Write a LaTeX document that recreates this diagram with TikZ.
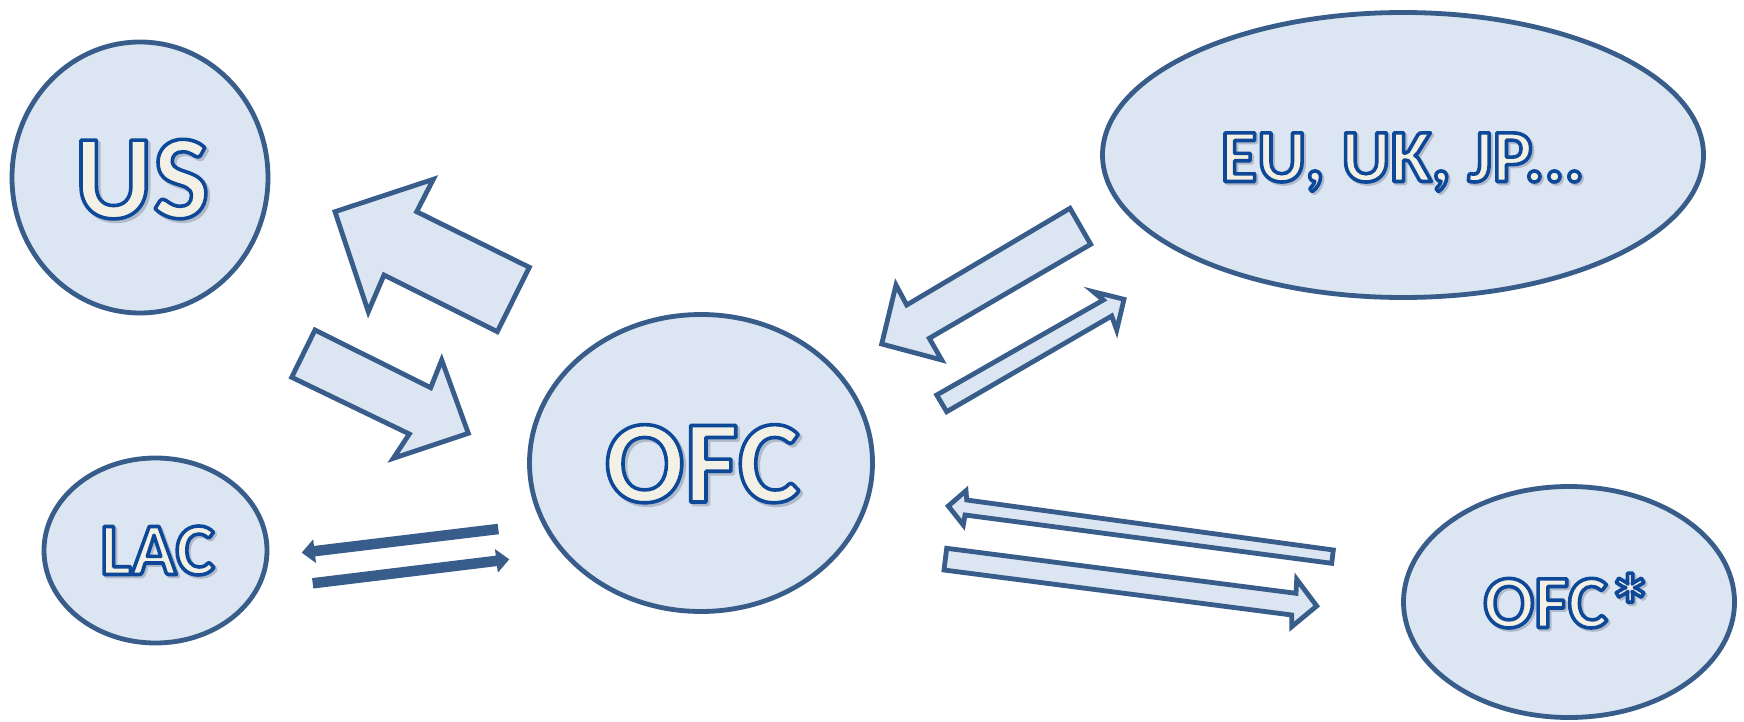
\documentclass[tikz,border=0pt]{standalone}
\usepackage{fontspec}
\setmainfont{Carlito}
\usetikzlibrary{shapes.geometric,arrows.meta}

\definecolor{edge}{RGB}{56,93,138}
\definecolor{bubble}{RGB}{220,230,242}
\definecolor{ink}{RGB}{243,240,229}
\definecolor{rim}{RGB}{14,72,152}
\definecolor{shade}{RGB}{176,186,202}

% outlined lettering: fill with the current colour, stroke in the rim colour
\newcommand{\rimtext}[1]{%
  \special{pdf:literal direct 2 Tr 3.6 w 1 j 0.055 0.282 0.596 RG}#1%
  \special{pdf:literal direct 0 Tr}}
% the same glyph outline, stroked in the shadow colour
\newcommand{\shadetext}[1]{%
  \special{pdf:literal direct 2 Tr 3.6 w 1 j 0.690 0.729 0.792 RG}#1%
  \special{pdf:literal direct 0 Tr}}
% a larger asterisk, kept level with the capitals
\newcommand{\bigstar}{\raisebox{-10pt}{\fontsize{90}{90}\selectfont *}}

\tikzset{
  bubbleshape/.style={ellipse, draw=edge, fill=bubble, line width=4.8pt, inner sep=0pt},
  blockarrow/.style={draw=edge, fill=bubble, line width=4.8pt, line join=miter},
  flowline/.style={draw=edge, line width=10.5pt, -{Triangle[width=23pt,length=13pt]}},
  bigword/.style={inner sep=0pt, anchor=base, text=ink, font=\bfseries\fontsize{#1}{#1}\selectfont},
  bigshadow/.style={inner sep=0pt, anchor=base, text=shade, font=\bfseries\fontsize{#1}{#1}\selectfont},
}

\begin{document}
\begin{tikzpicture}[x=1pt, y=-1pt]
  \path[fill=white, use as bounding box] (0,0) rectangle (1744,722);

  % regions
  \node[bubbleshape, minimum width=256pt, minimum height=271pt] (us) at (140,177.5) {};
  \node[bubbleshape, minimum width=223pt, minimum height=185pt] (lac) at (155.5,550.5) {};
  \node[bubbleshape, minimum width=343pt, minimum height=297pt] (ofc) at (701,463) {};
  \node[bubbleshape, minimum width=601pt, minimum height=285pt] (eu) at (1403,155) {};
  \node[bubbleshape, minimum width=331pt, minimum height=231pt] (ofcs) at (1569,602) {};

  % region names: soft shadow, then outlined lettering
  \node[bigshadow=120] (usshadow) at (144.5,220.5) {\shadetext{US}};
  \node[bigword=120] (ustext) at (142,218) {\rimtext{US}};

  \node[bigshadow=118] (ofcshadow) at (705,504.5) {\shadetext{OFC}};
  \node[bigword=118] (ofctext) at (702.5,502) {\rimtext{OFC}};

  \node[bigshadow=75] (eushadow) at (1404.5,183.5) {\shadetext{EU, UK, JP...}};
  \node[bigword=75] (eutext) at (1402.5,181.5) {\rimtext{EU, UK, JP...}};

  \node[bigshadow=74] (lacshadow) at (159.5,576.5) {\shadetext{LAC}};
  \node[bigword=74] (lactext) at (157.5,574.5) {\rimtext{LAC}};

  \node[bigshadow=75] (ofcsshadow) at (1570,629.5) {\shadetext{OFC\bigstar}};
  \node[bigword=75] (ofcstext) at (1568,627.5) {\rimtext{OFC\bigstar}};

  % block arrows between OFC and US
  \draw[blockarrow] (335,211.7) -- (433.3,179.3) -- (416.7,211.7) -- (529.3,267.3)
    -- (497.3,331.7) -- (384,275) -- (368.3,311.7) -- cycle;
  \draw[blockarrow] (315,330) -- (430.7,387.7) -- (441.7,360) -- (468.3,433.3)
    -- (393.3,458.3) -- (409.3,434) -- (291.7,377.3) -- cycle;

  % block arrows between OFC and EU, UK, JP
  \draw[blockarrow] (1070,208.3) -- (1090.7,244.3) -- (929.3,338.3) -- (941.7,360)
    -- (881.7,344) -- (896,285) -- (906.7,305) -- cycle;
  \draw[blockarrow] (936.7,395) -- (1103.3,300) -- (1093.3,291.7) -- (1124,299.3)
    -- (1116.7,330) -- (1111.7,316) -- (946.7,411.7) -- cycle;

  % block arrows between OFC and OFC*
  \draw[blockarrow] (1333.3,550) -- (1331.7,563.3) -- (965,515) -- (963.3,525)
    -- (948.3,506) -- (966,490.7) -- (966.7,500) -- cycle;
  \draw[blockarrow] (946.7,548.3) -- (1296,593.3) -- (1296.7,579.3) -- (1316.7,606)
    -- (1291.7,626.7) -- (1291.7,615) -- (944,570) -- cycle;

  % flows between OFC and LAC
  \coordinate (toLACstart) at (498.3,529);
  \coordinate (toLACend) at (301.7,552.7);
  \coordinate (fromLACstart) at (312.7,583.3);
  \coordinate (fromLACend) at (509.3,559.3);
  \draw[flowline] (toLACstart) -- (toLACend);
  \draw[flowline] (fromLACstart) -- (fromLACend);
\end{tikzpicture}
\end{document}
